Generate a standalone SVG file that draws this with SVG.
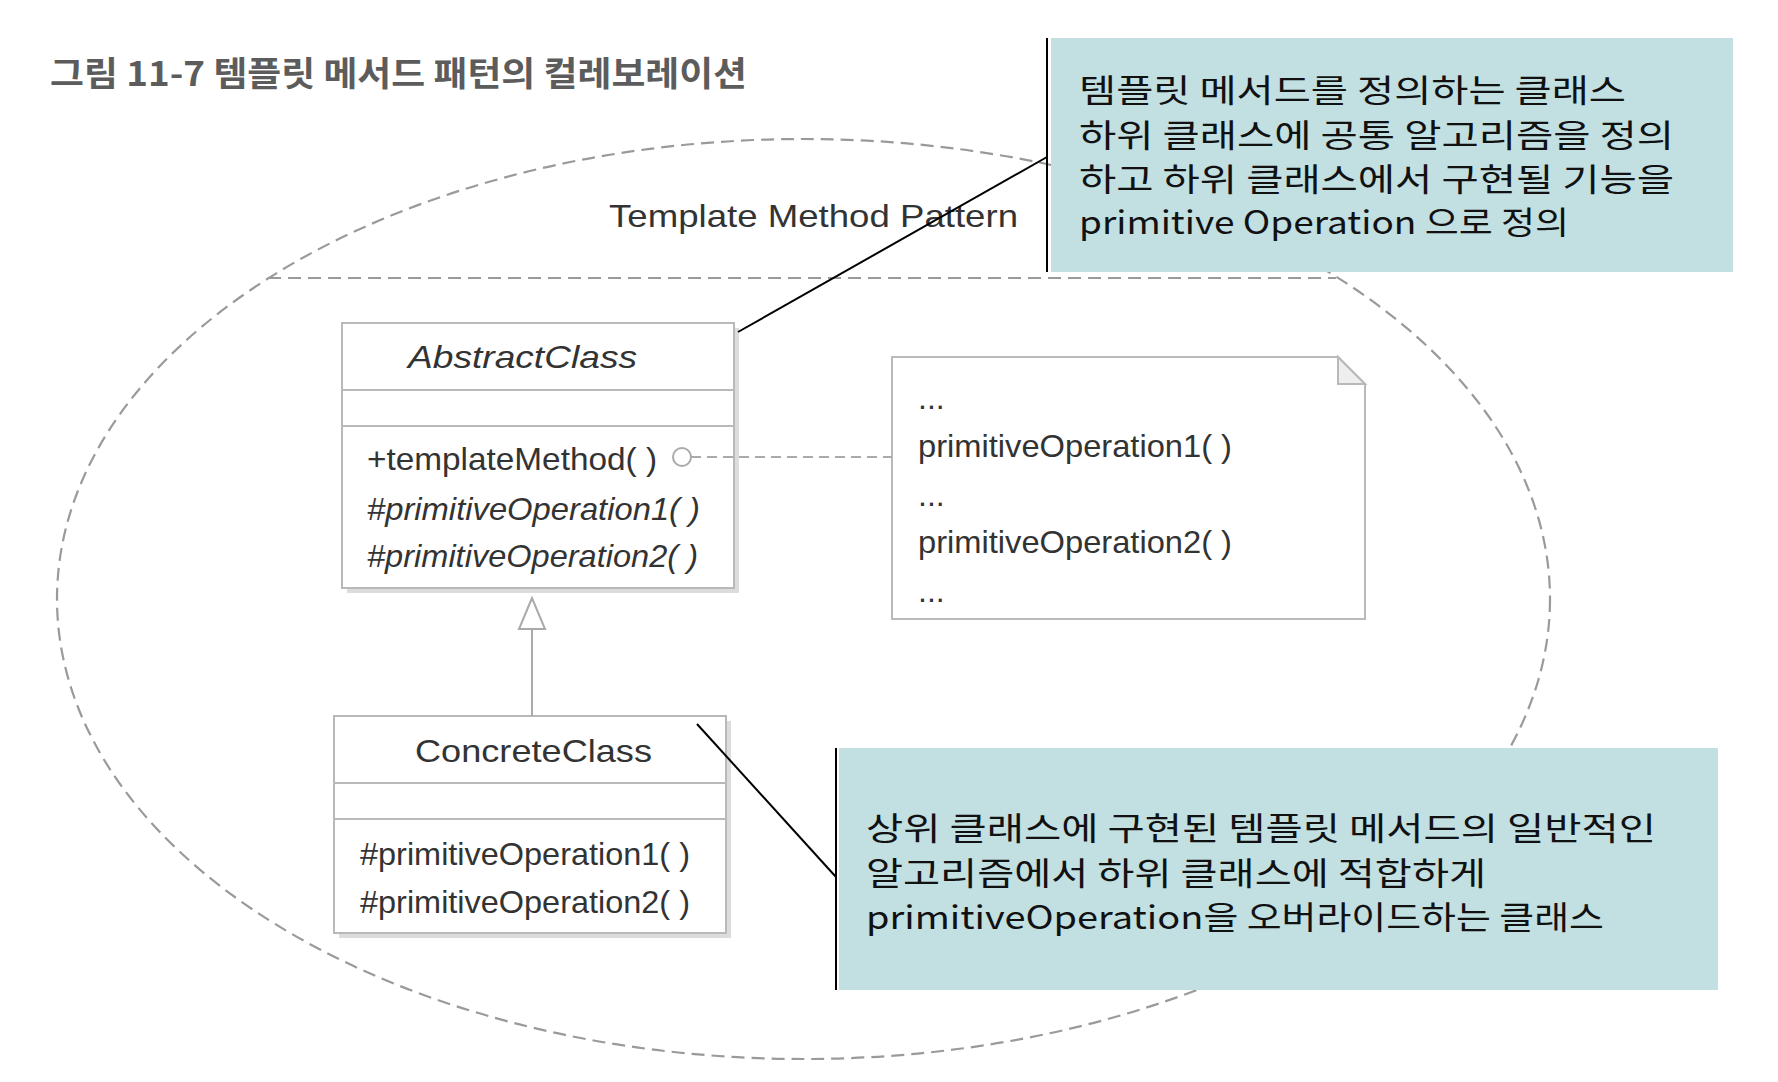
<svg xmlns="http://www.w3.org/2000/svg" width="1778" height="1082" viewBox="0 0 1778 1082">
<style>
.kr{font-family:"Noto Sans CJK KR","Noto Sans",sans-serif;fill:#111;font-size:32px}
.title{font-family:"Noto Sans CJK KR","Noto Sans",sans-serif;fill:#5c5c5c;font-size:34px;font-weight:bold}
.uml{font-family:"Liberation Sans",Arial,sans-serif;fill:#333;font-size:32px}
.it{font-style:italic}
.box{fill:#fff;stroke:#b9b9b9;stroke-width:2}
.shadow{fill:#dcdcdc}
.div{stroke:#b9b9b9;stroke-width:2}
.dash{fill:none;stroke:#9a9a9a;stroke-width:2.2;stroke-dasharray:13 7}
.callout{fill:#c2dfe2}
.lead{stroke:#000;stroke-width:2;fill:none}
.gray{stroke:#aaa;stroke-width:2;fill:none}
</style>
<rect width="1778" height="1082" fill="#fff"/>
<text class="title" x="50" y="86" textLength="697" lengthAdjust="spacingAndGlyphs">그림 11-7 템플릿 메서드 패턴의 컬레보레이션</text>
<g id="boundary">
<ellipse class="dash" cx="803.5" cy="599" rx="746.5" ry="460"/>
<line class="dash" x1="268" y1="278" x2="1336" y2="278"/>
<text class="uml" x="609" y="227" font-size="35" textLength="409" lengthAdjust="spacingAndGlyphs">Template Method Pattern</text>
</g>
<g id="abstract-class">
<rect class="shadow" x="347" y="328" width="392" height="265"/>
<rect class="box" x="342" y="323" width="392" height="265"/>
<line class="div" x1="342" y1="390" x2="734" y2="390"/>
<line class="div" x1="342" y1="426" x2="734" y2="426"/>
<text class="uml it" x="408" y="368" font-size="34" textLength="229" lengthAdjust="spacingAndGlyphs">AbstractClass</text>
<text class="uml" x="367" y="470" textLength="290" lengthAdjust="spacingAndGlyphs">+templateMethod( )</text>
<text class="uml it" x="367" y="520" textLength="333" lengthAdjust="spacingAndGlyphs">#primitiveOperation1( )</text>
<text class="uml it" x="367" y="567" textLength="331" lengthAdjust="spacingAndGlyphs">#primitiveOperation2( )</text>
</g>
<g id="concrete-class">
<rect class="shadow" x="339" y="721" width="392" height="217"/>
<rect class="box" x="334" y="716" width="392" height="217"/>
<line class="div" x1="334" y1="783" x2="726" y2="783"/>
<line class="div" x1="334" y1="819" x2="726" y2="819"/>
<text class="uml" x="415" y="762" font-size="34" textLength="237" lengthAdjust="spacingAndGlyphs">ConcreteClass</text>
<text class="uml" x="360" y="865" textLength="330" lengthAdjust="spacingAndGlyphs">#primitiveOperation1( )</text>
<text class="uml" x="360" y="913" textLength="330" lengthAdjust="spacingAndGlyphs">#primitiveOperation2( )</text>
</g>
<g id="note">
<path class="box" d="M892 357 H1338 L1365 384 V619 H892 Z"/>
<path d="M1338 357 V384 H1365 Z" fill="#eee" stroke="#b9b9b9" stroke-width="2"/>
<text class="uml" x="918" y="409">...</text>
<text class="uml" x="918" y="457" textLength="314" lengthAdjust="spacingAndGlyphs">primitiveOperation1( )</text>
<text class="uml" x="918" y="506">...</text>
<text class="uml" x="918" y="553" textLength="314" lengthAdjust="spacingAndGlyphs">primitiveOperation2( )</text>
<text class="uml" x="918" y="602">...</text>
</g>
<g id="callout-top">
<rect class="callout" x="1051" y="38" width="682" height="234"/>
<line x1="1047" y1="38" x2="1047" y2="272" stroke="#000" stroke-width="2"/>
<text class="kr" x="1079" y="102" textLength="547" lengthAdjust="spacingAndGlyphs">템플릿 메서드를 정의하는 클래스</text>
<text class="kr" x="1079" y="147" textLength="595" lengthAdjust="spacingAndGlyphs">하위 클래스에 공통 알고리즘을 정의</text>
<text class="kr" x="1079" y="191" textLength="595" lengthAdjust="spacingAndGlyphs">하고 하위 클래스에서 구현될 기능을</text>
<text class="kr" x="1079" y="234" textLength="490" lengthAdjust="spacingAndGlyphs">primitive Operation 으로 정의</text>
</g>
<g id="callout-bottom">
<rect class="callout" x="839" y="748" width="879" height="242"/>
<line x1="836" y1="748" x2="836" y2="990" stroke="#000" stroke-width="2"/>
<text class="kr" x="866" y="840" textLength="790" lengthAdjust="spacingAndGlyphs">상위 클래스에 구현된 템플릿 메서드의 일반적인</text>
<text class="kr" x="866" y="885" textLength="620" lengthAdjust="spacingAndGlyphs">알고리즘에서 하위 클래스에 적합하게</text>
<text class="kr" x="866" y="929" textLength="738" lengthAdjust="spacingAndGlyphs">primitiveOperation을 오버라이드하는 클래스</text>
</g>
<g id="connectors">
<circle cx="682" cy="457" r="9" fill="#fff" stroke="#aaa" stroke-width="2"/>
<line x1="691" y1="457" x2="892" y2="457" stroke="#aaa" stroke-width="2" stroke-dasharray="10 6"/>
<line class="gray" x1="532" y1="629" x2="532" y2="716"/>
<path d="M532 598 L519 629 H545 Z" fill="#fff" stroke="#aaa" stroke-width="2"/>
<line class="lead" x1="738" y1="332" x2="1047" y2="157"/>
<line class="lead" x1="697" y1="724" x2="836" y2="877"/>
</g>
</svg>
